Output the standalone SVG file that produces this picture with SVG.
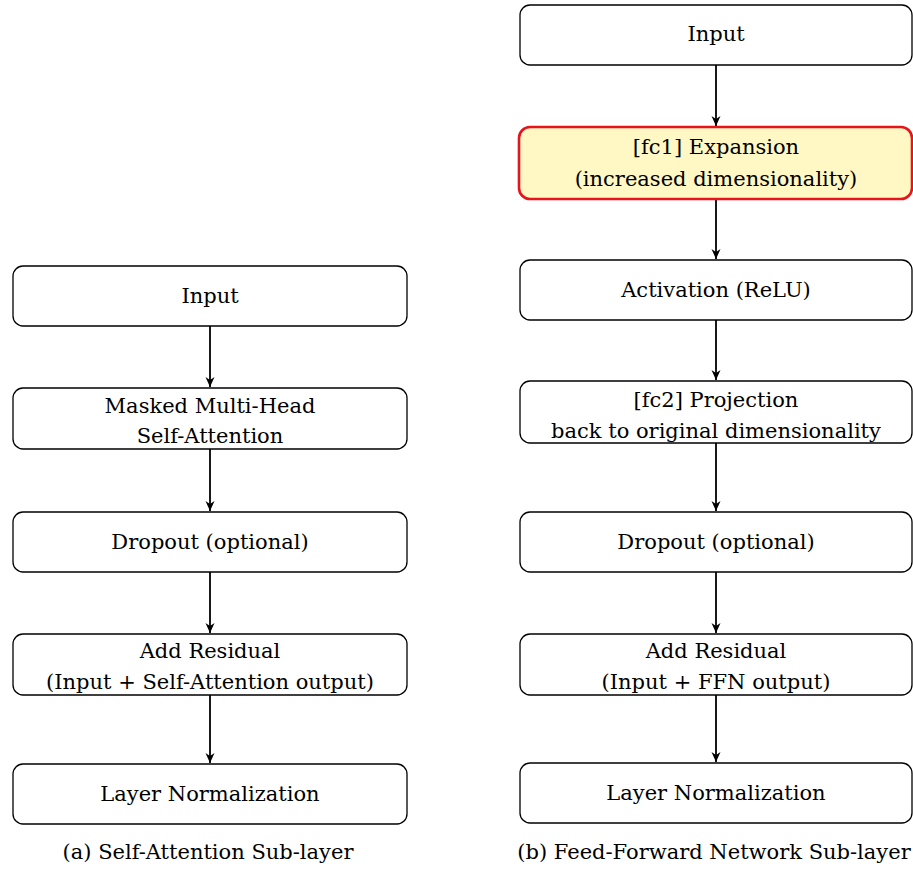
<svg xmlns="http://www.w3.org/2000/svg" width="913" height="869" viewBox="0 0 913 869">
<defs>
<marker id="ah" viewBox="0 0 10 10" refX="10" refY="5" markerWidth="10" markerHeight="10" markerUnits="userSpaceOnUse" orient="auto">
<path d="M0,0.5 L10,5 L0,9.5 L3,5 Z" fill="#000"/>
</marker>
<style>
.box{fill:#fff;stroke:#000;stroke-width:1.3}
.hl{fill:#fff8c4;stroke:#e8141c;stroke-width:2.6}
text{font-family:"DejaVu Serif","Liberation Serif",serif;font-size:21px;fill:#000;text-anchor:middle}
.con{stroke:#000;stroke-width:1.8;fill:none;marker-end:url(#ah)}
</style>
</defs>
<rect width="913" height="869" fill="#fff"/>
<g id="connectors">
<line class="con" x1="210" y1="326" x2="210" y2="387"/>
<line class="con" x1="210" y1="449" x2="210" y2="511"/>
<line class="con" x1="210" y1="572" x2="210" y2="633"/>
<line class="con" x1="210" y1="695" x2="210" y2="763"/>
<line class="con" x1="716" y1="65" x2="716" y2="126"/>
<line class="con" x1="716" y1="199" x2="716" y2="259"/>
<line class="con" x1="716" y1="320" x2="716" y2="380"/>
<line class="con" x1="716" y1="443" x2="716" y2="511"/>
<line class="con" x1="716" y1="572" x2="716" y2="633"/>
<line class="con" x1="716" y1="695" x2="716" y2="762"/>
</g>
<g id="a_input"><rect class="box" x="13" y="266" width="394" height="60" rx="10"/><text x="210" y="303">Input</text></g>
<g id="a_mha"><rect class="box" x="13" y="388" width="394" height="61" rx="10"/><text x="210" y="413">Masked Multi-Head</text><text x="210" y="443">Self-Attention</text></g>
<g id="a_dropout"><rect class="box" x="13" y="512" width="394" height="60" rx="10"/><text x="210" y="549">Dropout (optional)</text></g>
<g id="a_residual"><rect class="box" x="13" y="634" width="394" height="61" rx="10"/><text x="210" y="658">Add Residual</text><text x="210" y="689">(Input + Self-Attention output)</text></g>
<g id="a_norm"><rect class="box" x="13" y="764" width="394" height="60" rx="10"/><text x="210" y="801">Layer Normalization</text></g>
<text x="208" y="859">(a) Self-Attention Sub-layer</text>
<g id="b_input"><rect class="box" x="520" y="5" width="392" height="60" rx="10"/><text x="716" y="41">Input</text></g>
<g id="b_fc1"><rect class="hl" x="519" y="127" width="393" height="72" rx="11"/><text x="716" y="154">[fc1] Expansion</text><text x="716" y="186">(increased dimensionality)</text></g>
<g id="b_act"><rect class="box" x="520" y="260" width="392" height="60" rx="10"/><text x="716" y="297">Activation (ReLU)</text></g>
<g id="b_fc2"><rect class="box" x="520" y="381" width="392" height="62" rx="10"/><text x="716" y="407">[fc2] Projection</text><text x="716" y="438">back to original dimensionality</text></g>
<g id="b_dropout"><rect class="box" x="520" y="512" width="392" height="60" rx="10"/><text x="716" y="549">Dropout (optional)</text></g>
<g id="b_residual"><rect class="box" x="520" y="634" width="392" height="61" rx="10"/><text x="716" y="658">Add Residual</text><text x="716" y="689">(Input + FFN output)</text></g>
<g id="b_norm"><rect class="box" x="520" y="763" width="392" height="60" rx="10"/><text x="716" y="800">Layer Normalization</text></g>
<text x="714" y="859">(b) Feed-Forward Network Sub-layer</text>
</svg>
